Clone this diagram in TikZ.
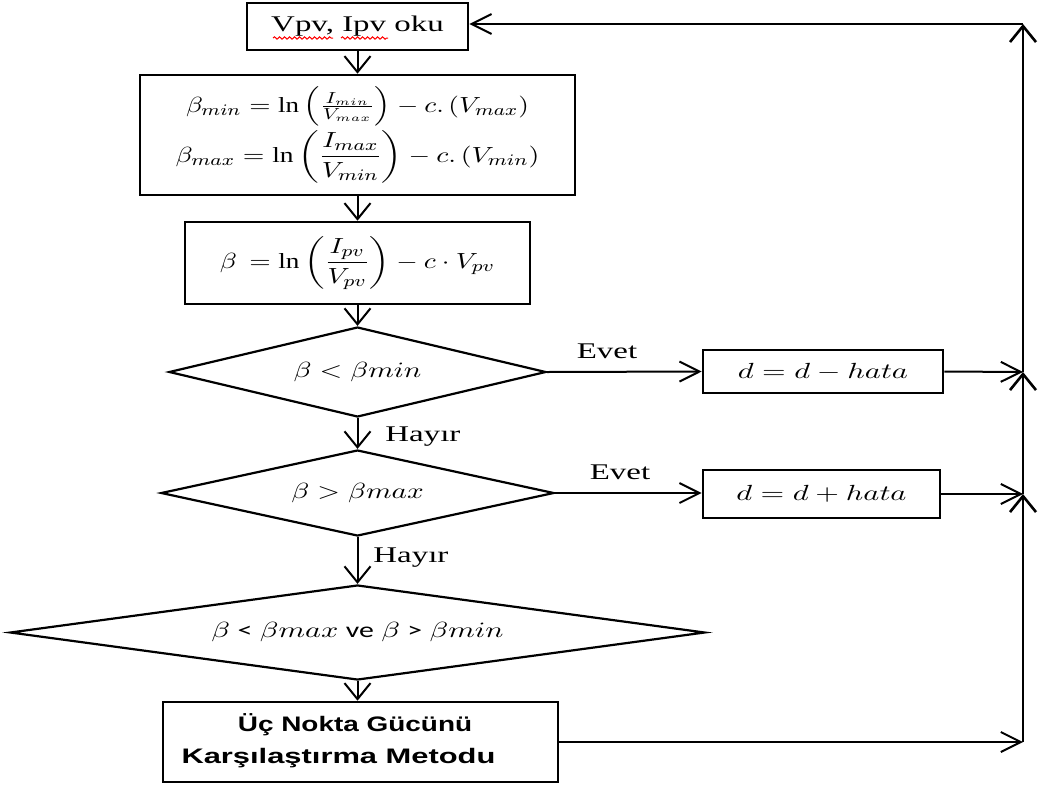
\documentclass[tikz,border=0pt]{standalone}
\usepackage{amsmath}
\usepackage{graphicx}
\usepackage{fontspec}
\setmainfont{Liberation Serif}
\newfontfamily\labelsans{Liberation Sans}
\newfontfamily\calib{Carlito}
\usetikzlibrary{arrows.meta,shapes.geometric,decorations.pathmorphing}
% widened lettering used throughout the chart (optional widening factor)
\newcommand{\sx}[2][1.47]{\scalebox{#1}[1]{#2}}

\begin{document}
\begin{tikzpicture}[x=0.5pt,y=-0.5pt,
  font=\fontsize{11.2}{13.5}\selectfont,
  box/.style={draw,rectangle,line width=1.3pt,inner sep=0pt,align=center},
  test/.style={draw,diamond,aspect=6,line width=1.1pt,inner sep=0pt},
  ha/.style={line width=1pt,-{Straight Barb[length=10pt,width=10pt]}},
  va/.style={line width=1pt,-{Straight Barb[length=8pt,width=13pt]}},
  ret/.style={line width=1.3pt,-{Straight Barb[length=8pt,width=13pt]}},
  lbl/.style={inner sep=0pt},
  mth/.style={font=\fontsize{10.8}{13}\selectfont}]

\fill[white] (0,0) rectangle (1042,787);
\useasboundingbox (0,0) rectangle (1042,787);

% main column
\node[box,minimum width=110.5pt,minimum height=23.5pt] (read) at (357.5,26.5) {\sx{Vpv, Ipv oku}};
\node[box,mth,minimum width=217.5pt,minimum height=60pt] (bounds) at (357.5,135)
  {\sx[1.25]{$\beta_{min} = \ln\left(\tfrac{I_{min}}{V_{max}}\right) - c.\,(V_{max})$}\\[1pt]
   \sx[1.27]{$\beta_{max} = \ln\left(\dfrac{I_{max}}{V_{min}}\right) - c.\,(V_{min})$}};
\node[box,mth,minimum width=172.5pt,minimum height=41pt] (beta) at (357.5,263)
  {\sx[1.26]{$\beta\, = \ln\left(\dfrac{I_{pv}}{V_{pv}}\right) - c\cdot V_{pv}$}};
\node[test,mth,minimum width=188.5pt,minimum height=45pt] (lo) at (357.5,372) {\sx[1.33]{$\beta < \beta min$}};
\node[test,mth,minimum width=196.5pt,minimum height=43pt] (hi) at (357.5,493) {\sx[1.33]{$\beta > \beta max$}};
\node[test,mth,minimum width=347.5pt,minimum height=47.5pt] (mid) at (357.5,632.5)
  {\sx[1.38]{$\beta$ {\calib <} $\beta max$ {\calib ve} $\beta$ {\calib >} $\beta min$}};
\node[box,minimum width=197.5pt,minimum height=40pt,
      font=\labelsans\bfseries\fontsize{10.5}{16}\selectfont] (method) at (360.5,742)
  {\raisebox{3pt}{\sx[1.33]{Üç Nokta Gücünü}}\hspace*{5.5pt}\\\raisebox{3pt}{\sx{Karşılaştırma Metodu}}\hspace*{22pt}};

% correction boxes
\node[box,mth,minimum width=120pt,minimum height=21.5pt] (dec) at (823,371.5) {\sx[1.39]{$d = d - hata$}};
\node[box,mth,minimum width=118.5pt,minimum height=24pt] (inc) at (821.5,494) {\sx[1.39]{$d = d + hata$}};

% return bus
\coordinate (j1) at (1023,372);
\coordinate (j2) at (1023,494);
\coordinate (j3) at (1023,742);
\coordinate (jt) at (1023,24);

% spell-check marks under the variable names
\draw[red,line width=0.5pt,decorate,decoration={snake,segment length=2.5pt,amplitude=0.6pt}]
  (273,38) -- (333,38);
\draw[red,line width=0.5pt,decorate,decoration={snake,segment length=2.5pt,amplitude=0.6pt}]
  (341,38) -- (388,38);

% downward flow
\draw[va] (read) -- (bounds);
\draw[va] (bounds) -- (beta);
\draw[va] (beta) -- (lo);
\draw[va] (lo) -- (hi);
\node[lbl,anchor=west] (n1) at (385,437) {\sx{Hayır}};
\draw[va] (hi) -- (mid);
\node[lbl,anchor=west] (n2) at (373,558) {\sx{Hayır}};
\draw[va] (mid.south) -- (mid.south |- method.north);

% yes branches
\draw[ha] (lo.east) -- (dec.west);
\node[lbl] (y1) at (607,351) {\sx{Evet}};
\draw[ha] (hi.east) -- (inc.west |- hi.east);
\node[lbl] (y2) at (620,472) {\sx{Evet}};

% into the return bus
\draw[ha] (dec.east) -- (j1);
\draw[ha] (inc.east) -- (j2);
\draw[ha] (method.east |- j3) -- (j3);
\draw[ret] (j3) -- (j2);
\draw[ret] (j2) -- (j1);
\draw[ret] (j1) -- (jt);
\draw[ha] (jt) -- (jt -| read.east);
\end{tikzpicture}
\end{document}
